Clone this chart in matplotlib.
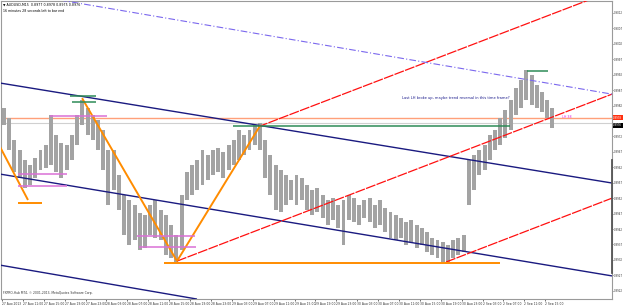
import matplotlib.pyplot as plt
import matplotlib.transforms as mtransforms

# hourly high / low of AUDUSD M15 bars (index 0 = 27 Aug 07:00, 4 bars per hour)
highs = [0.89812, 0.89780, 0.89708, 0.89676, 0.89644, 0.89627, 0.89650, 0.89676, 0.89692, 0.89789,
         0.89725, 0.89699, 0.89692, 0.89725, 0.89789, 0.89838, 0.89812, 0.89789, 0.89773, 0.89741,
         0.89676, 0.89676, 0.89595, 0.89530, 0.89514, 0.89498, 0.89472, 0.89465, 0.89498, 0.89514,
         0.89482, 0.89465, 0.89433, 0.89401, 0.89530, 0.89605, 0.89627, 0.89644, 0.89676, 0.89660,
         0.89676, 0.89682, 0.89670, 0.89692, 0.89708, 0.89741, 0.89725, 0.89741, 0.89757, 0.89763,
         0.89708, 0.89660, 0.89627, 0.89611, 0.89595, 0.89579, 0.89595, 0.89585, 0.89563, 0.89546,
         0.89553, 0.89530, 0.89514, 0.89520, 0.89498, 0.89514, 0.89530, 0.89520, 0.89498, 0.89514,
         0.89520, 0.89498, 0.89514, 0.89488, 0.89475, 0.89465, 0.89456, 0.89443, 0.89449, 0.89433,
         0.89423, 0.89410, 0.89391, 0.89384, 0.89378, 0.89368, 0.89384, 0.89391, 0.89401, 0.89644,
         0.89660, 0.89676, 0.89692, 0.89725, 0.89741, 0.89780, 0.89806, 0.89838, 0.89877, 0.89903,
         0.89935, 0.89919, 0.89887, 0.89864, 0.89838, 0.89812]
lows = [0.89757, 0.89676, 0.89605, 0.89585, 0.89553, 0.89563, 0.89585, 0.89611, 0.89618, 0.89627,
        0.89605, 0.89585, 0.89611, 0.89644, 0.89692, 0.89757, 0.89725, 0.89708, 0.89676, 0.89611,
        0.89498, 0.89546, 0.89482, 0.89401, 0.89368, 0.89384, 0.89352, 0.89358, 0.89401, 0.89391,
        0.89384, 0.89336, 0.89326, 0.89313, 0.89352, 0.89514, 0.89530, 0.89546, 0.89563, 0.89579,
        0.89595, 0.89605, 0.89585, 0.89611, 0.89627, 0.89644, 0.89660, 0.89676, 0.89692, 0.89676,
        0.89585, 0.89530, 0.89482, 0.89475, 0.89498, 0.89514, 0.89498, 0.89514, 0.89482, 0.89465,
        0.89475, 0.89456, 0.89433, 0.89449, 0.89423, 0.89368, 0.89449, 0.89443, 0.89433, 0.89456,
        0.89443, 0.89423, 0.89433, 0.89410, 0.89391, 0.89384, 0.89391, 0.89368, 0.89378, 0.89358,
        0.89368, 0.89346, 0.89336, 0.89326, 0.89313, 0.89313, 0.89326, 0.89336, 0.89346, 0.89498,
        0.89546, 0.89595, 0.89611, 0.89644, 0.89676, 0.89692, 0.89715, 0.89741, 0.89789, 0.89812,
        0.89838, 0.89822, 0.89812, 0.89799, 0.89780, 0.89747]

# time axis labels, one every 16 bars
time_labels = ['27 Aug 2013', '27 Aug 11:00', '27 Aug 15:00', '27 Aug 19:00', '27 Aug 23:00',
               '28 Aug 03:00', '28 Aug 07:00', '28 Aug 11:00', '28 Aug 15:00', '28 Aug 19:00', '28 Aug 23:00',
               '29 Aug 03:00', '29 Aug 07:00', '29 Aug 11:00', '29 Aug 15:00', '29 Aug 19:00', '29 Aug 23:00',
               '30 Aug 03:00', '30 Aug 07:00', '30 Aug 11:00', '30 Aug 15:00', '30 Aug 19:00', '30 Aug 23:00',
               '2 Sep 03:00', '2 Sep 07:00', '2 Sep 11:00', '2 Sep 15:00']
price_ticks = [0.9012, 0.9007, 0.9002, 0.8997, 0.8992, 0.8987, 0.8982, 0.8972, 0.8967, 0.8962,
               0.8957, 0.8952, 0.8947, 0.8942, 0.8937, 0.8932, 0.8927, 0.8922]

# trendlines drawn on the chart: (bar, price) pairs
navy_lines = [[(-1.5, 0.89893), (467.1, 0.89569)],
              [(-1.5, 0.89598), (467.1, 0.89268)],
              [(-1.5, 0.89303), (149.3, 0.89193)]]
red_lines = [[(196.0, 0.89751), (467.1, 0.90191)],
             [(134.0, 0.89316), (467.1, 0.89857)],
             [(340.0, 0.89313), (467.1, 0.89520)]]
orange_lines = [[(-1.5, 0.89686), (19.9, 0.89514)],
                [(12.3, 0.89504), (30.6, 0.89504)],
                [(61.3, 0.89844), (134.0, 0.89316)],
                [(134.0, 0.89316), (197.5, 0.89754)],
                [(124.0, 0.89310), (381.3, 0.89310)]]
green_lines = [[(52.1, 0.89851), (72.0, 0.89851)],
               [(53.6, 0.89832), (72.0, 0.89832)],
               [(176.9, 0.89754), (389.0, 0.89754)],
               [(402.0, 0.89932), (418.1, 0.89932)]]
magenta_lines = [[(36.8, 0.89786), (80.4, 0.89786)],
                 [(12.3, 0.89598), (49.8, 0.89598)],
                 [(12.3, 0.89559), (49.8, 0.89559)],
                 [(103.4, 0.89397), (147.8, 0.89397)],
                 [(104.9, 0.89362), (148.5, 0.89362)]]
slate_line = [(44.4, 0.90162), (467.1, 0.89857)]
salmon_level = 0.89780
bid_level = 0.89762

fig = plt.figure(figsize=(6.25, 3.05), dpi=100)
ax = fig.add_axes([1 / 625, 6 / 305, 611 / 625, 298 / 305])
ax.set_xlim(-0.77, 467.1)
ax.set_ylim(0.891932, 0.901588)

for sp in ax.spines.values():
    sp.set_color('#9a9a9a')
    sp.set_linewidth(0.8)

# price bars
centers = [4 * j + 1.5 for j in range(len(highs))]
spans = [h - l for h, l in zip(highs, lows)]
ax.bar(centers, spans, bottom=lows, width=3.0, color='#a3a3a3', edgecolor='none', zorder=2)

ax.axhline(salmon_level, color='#ffa07a', lw=1.0, zorder=1)
ax.axhline(bid_level, color='#d0d0d0', lw=0.8, zorder=1)

def draw(lines, color, lw, ls='-'):
    for (x0, y0), (x1, y1) in lines:
        ax.plot([x0, x1], [y0, y1], color=color, lw=lw, ls=ls, zorder=3,
                solid_capstyle='butt')

draw(navy_lines, '#1a1a80', 1.0)
draw(red_lines, '#ff1010', 0.9, (0, (8, 1)))
draw(orange_lines, '#ff8c00', 1.4)
draw(green_lines, '#2e8b57', 1.1)
draw(magenta_lines, '#da70d6', 1.1)
draw([slate_line], '#7b68ee', 0.8, (0, (6, 2, 1, 2)))

ax.text(306.3, 0.89844, 'Last LH broke up, maybe trend reversal in this time frame?',
        fontsize=2.6, color='#1c1c8c', va='center', ha='left', zorder=4)
ax.text(429, 0.89782, 'LH 38', fontsize=2.3, color='#e020e0', va='center', ha='left', zorder=4)

# header and footer texts
ax.text(0.004, 0.993, '\u25bc AUDUSD,M15  0.8977 0.8978 0.8975 0.8976', transform=ax.transAxes,
        fontsize=2.3, color='black', va='top', ha='left', zorder=5,
        bbox=dict(facecolor='white', edgecolor='none', pad=0.3))
ax.text(0.004, 0.972, '16 minutes 28 seconds left to bar end', transform=ax.transAxes,
        fontsize=2.3, color='black', va='top', ha='left', zorder=5)
ax.text(0.004, 0.012, 'FXPRO-Hub MT4, \u00a9 2001-2013, MetaQuotes Software Corp.', transform=ax.transAxes,
        fontsize=2.2, color='#333333', va='bottom', ha='left', zorder=5)

# axes ticks
ax.yaxis.tick_right()
ax.set_yticks(price_ticks)
ax.set_yticklabels(['%.4f' % v for v in price_ticks])
ax.tick_params(axis='y', direction='out', length=1.0, width=0.5, pad=0.3, labelsize=1.9,
               colors='#333333')
ax.set_xticks([16 * i for i in range(len(time_labels))])
ax.set_xticklabels(time_labels, ha='left')
ax.tick_params(axis='x', direction='out', length=1.5, width=0.5, pad=0.6, labelsize=2.2,
               colors='#333333')

# current price boxes on the price scale
trans = mtransforms.blended_transform_factory(ax.transAxes, ax.transData)
ax.text(1.002, salmon_level, '0.8978', transform=trans, fontsize=1.9, color='white',
        va='center', ha='left', bbox=dict(facecolor='#ff3010', edgecolor='none', pad=0.3), clip_on=False)
ax.text(1.002, bid_level - 0.00006, '0.8976', transform=trans, fontsize=1.9, color='white',
        va='center', ha='left', bbox=dict(facecolor='black', edgecolor='none', pad=0.3), clip_on=False)
ax.plot([1, 1], [0.087, 0.465], transform=ax.transAxes, color='#555555', lw=1.3,
        clip_on=False, zorder=6)

fig.savefig('out.png', dpi=100)
